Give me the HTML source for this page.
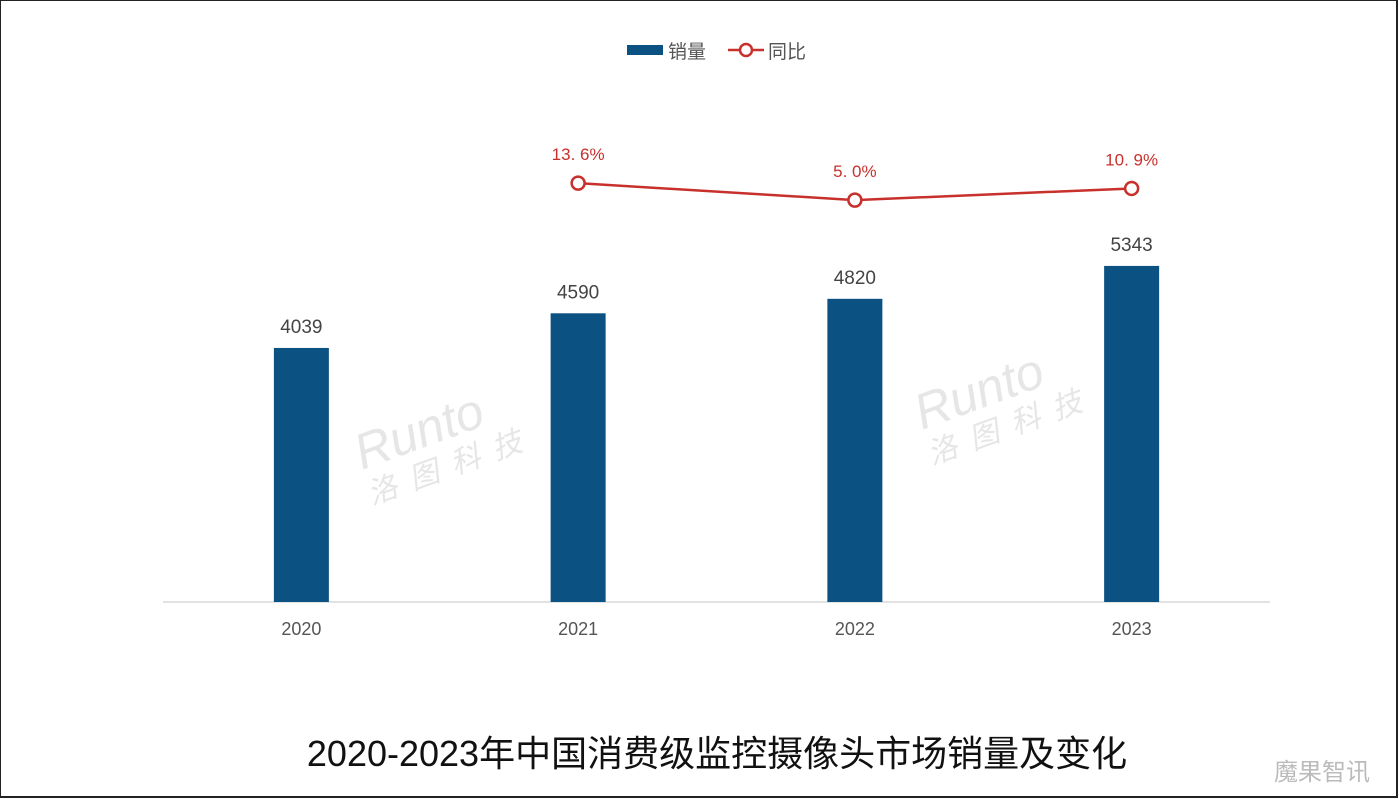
<!DOCTYPE html>
<html><head><meta charset="utf-8"><style>
body{margin:0;width:1399px;height:799px;overflow:hidden;background:#fff;font-family:"Liberation Sans","Noto Sans CJK SC",sans-serif}
#frame{position:absolute;left:0;top:0;width:1395px;height:795px;border:2px solid #222;border-left-width:1px;border-top-width:1px}
</style></head><body>
<div id="frame"></div>
<svg width="1399" height="799" style="position:absolute;left:0;top:0">
<g id="legend">
<rect x="627" y="45" width="36" height="10" fill="#0b5283"/>
<text x="668" y="58" font-size="19" fill="#555">销量</text>
<line x1="728" y1="50" x2="764" y2="50" stroke="#c8302c" stroke-width="2.5"/>
<circle cx="746" cy="50" r="6" fill="#fff" stroke="#c8302c" stroke-width="2.5"/>
<text x="768" y="58" font-size="19" fill="#555">同比</text>
</g>
<g opacity="0.25" fill="#999" font-style="italic">
<text transform="translate(362,470) rotate(-20)" font-size="50">Runto</text>
<text transform="translate(372,505) rotate(-20)" font-size="30" letter-spacing="14">洛图科技</text>
<text transform="translate(922,430) rotate(-20)" font-size="50">Runto</text>
<text transform="translate(932,465) rotate(-20)" font-size="30" letter-spacing="14">洛图科技</text>
</g>
<g id="plot"></g>
<text x="717" y="766" font-size="36" fill="#111" text-anchor="middle">2020-2023年中国消费级监控摄像头市场销量及变化</text>
<text x="1322" y="780" font-size="24" fill="#bbb" text-anchor="middle">魔果智讯</text>
</svg>
<script>
const categories=["2020","2021","2022","2023"];
const sales=[4039,4590,4820,5343];
const yoy=[null,13.6,5.0,10.9];
const yoyLabels=["","13. 6%","5. 0%","10. 9%"];
const NS="http://www.w3.org/2000/svg";
const g=document.getElementById('plot');
const x0=163,x1=1270,base=602;
const bw=(x1-x0)/categories.length;
const xc=i=>x0+bw*(i+0.5);
const yBar=v=>base-v*0.0629;
const yLine=v=>210-v*1.977;
function mk(t,a){const e=document.createElementNS(NS,t);for(const k in a)e.setAttribute(k,a[k]);g.appendChild(e);return e;}
const ax=mk('line',{x1:x0,y1:base,x2:x1,y2:base,stroke:'#d9d9d9','stroke-width':1.5});


categories.forEach((c,i)=>{
  const b=mk('rect',{x:xc(i)-27.5,y:yBar(sales[i]),width:55,height:base-yBar(sales[i]),fill:'#0b5283'});
  
  
  const vl=mk('text',{x:xc(i),y:yBar(sales[i])-15,'font-size':19,fill:'#444','text-anchor':'middle'});
  vl.textContent=sales[i];
  
  
  const tl=mk('text',{x:xc(i),y:635,'font-size':18,fill:'#555','text-anchor':'middle'});
  tl.textContent=c;
  
  
});
let d='';
yoy.forEach((v,i)=>{if(v!==null)d+=(d?'L':'M')+xc(i)+','+yLine(v);});
const ln=mk('path',{d:d,fill:'none',stroke:'#c8302c','stroke-width':2.5});


yoy.forEach((v,i)=>{
  if(v===null)return;
  const p=mk('circle',{cx:xc(i),cy:yLine(v),r:6.5,fill:'#fff',stroke:'#c8302c','stroke-width':2.5});
  
  
  const t=mk('text',{x:xc(i),y:yLine(v)-23,'font-size':17,fill:'#c8302c','text-anchor':'middle'});
  t.textContent=yoyLabels[i];
  
  
});
</script>
</body></html>
